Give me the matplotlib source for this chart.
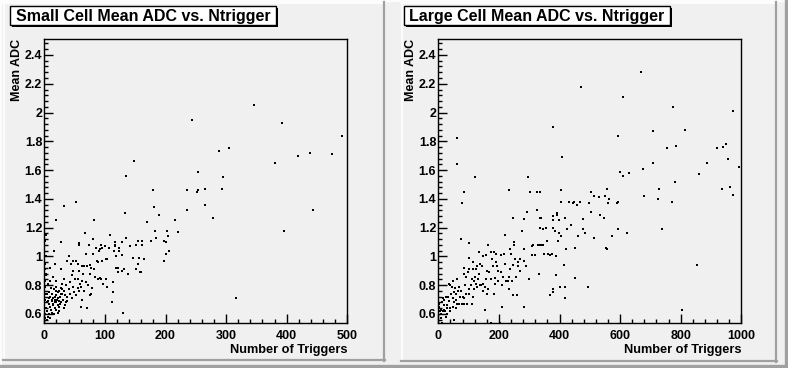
import matplotlib
matplotlib.use("Agg")
import matplotlib.pyplot as plt
from matplotlib.patches import Rectangle
from matplotlib.lines import Line2D
from matplotlib.ticker import MultipleLocator

plt.rcParams['font.family'] = ['Liberation Sans', 'DejaVu Sans']
plt.rcParams['font.weight'] = 'bold'

# ---------------- data ----------------
titles = ["Small Cell Mean ADC vs. Ntrigger", "Large Cell Mean ADC vs. Ntrigger"]
x_label = "Number of Triggers"
y_label = "Mean ADC"
x_max = [500, 1000]
x_major = [100, 200]
y_range = (0.535, 2.509)

small_pts = [
    (346, 2.05), (243, 1.95), (393, 1.93), (491, 1.84), (304, 1.75), (288, 1.73), (418, 1.70), (438, 1.72),
    (475, 1.71), (380, 1.65), (148, 1.66), (253, 1.59), (134, 1.56), (295, 1.55), (179, 1.46), (235, 1.46),
    (252, 1.45), (254, 1.46), (266, 1.47), (293, 1.47), (52, 1.38), (32, 1.35), (266, 1.36), (236, 1.32),
    (444, 1.32), (133, 1.30), (181, 1.34), (190, 1.29), (278, 1.27), (169, 1.24), (215, 1.25), (82, 1.25),
    (19, 1.25), (182, 1.18), (220, 1.17), (202, 1.18), (395, 1.18), (67, 1.16), (108, 1.15), (28, 1.10),
    (134, 1.13), (129, 1.10), (116, 1.10), (155, 1.11), (176, 1.11), (198, 1.11), (204, 1.14), (57, 1.08),
    (73, 1.08), (85, 1.06), (100, 1.07), (117, 1.07), (124, 1.04), (141, 1.07), (162, 1.08), (16, 1.04),
    (205, 1.04), (201, 1.02), (92, 1.05), (41, 1.00), (119, 1.00), (147, 0.99), (157, 0.99), (165, 0.98),
    (197, 0.97), (101, 0.98), (87, 0.97), (75, 0.94), (63, 0.93), (55, 0.95), (47, 0.97), (118, 0.92),
    (128, 0.90), (138, 0.88), (158, 0.89), (114, 0.82), (103, 0.79), (113, 0.75), (112, 0.68), (130, 0.61),
    (317, 0.71), (70, 0.64), (60, 0.65), (63, 0.70), (76, 0.73), (97, 0.81), (92, 0.85),
    (58, 1.09), (81, 1.12), (74, 1.08), (94, 1.08), (116, 1.08), (115, 1.04), (123, 1.06), (68, 1.02),
    (81, 1.02), (90, 1.04), (95, 1.06), (106, 1.06), (128, 1.01), (38, 0.97), (52, 0.97), (44, 0.95),
    (27, 0.91), (18, 0.95), (9, 0.92), (20, 0.83), (33, 0.84), (45, 0.87), (48, 0.90), (58, 0.90),
    (66, 0.93), (71, 0.93), (77, 0.92), (88, 0.96), (95, 0.97), (104, 0.98), (64, 0.88), (75, 0.88),
    (82, 0.91), (55, 0.84), (63, 0.83), (88, 0.84), (93, 0.84), (101, 0.84), (122, 0.89), (132, 0.91),
    (122, 0.92), (152, 0.91), (159, 0.89), (154, 0.95), (146, 0.99), (156, 0.99), (152, 1.08), (162, 1.11),
    (185, 1.13), (201, 1.10), (77, 0.74),
    (1, 0.57), (1, 0.60), (2, 0.64), (1, 0.70), (2, 0.74), (1, 0.79), (1, 0.83), (2, 0.87), (1, 0.91),
    (1, 0.95), (2, 1.00), (1, 1.11), (2, 1.15),
    (4, 0.56), (6, 0.58), (5, 0.62), (8, 0.60), (9, 0.65), (7, 0.67), (11, 0.63), (12, 0.69), (10, 0.72),
    (14, 0.66), (15, 0.71), (13, 0.74), (17, 0.68), (18, 0.64), (19, 0.73), (16, 0.77), (21, 0.70),
    (22, 0.66), (23, 0.75), (20, 0.79), (24, 0.69), (26, 0.72), (25, 0.62), (27, 0.78), (28, 0.68),
    (30, 0.74), (29, 0.81), (31, 0.70), (33, 0.76), (34, 0.66), (35, 0.80), (37, 0.72), (38, 0.69),
    (40, 0.77), (42, 0.74), (43, 0.82), (45, 0.71), (47, 0.79), (49, 0.75), (51, 0.84), (53, 0.73),
    (55, 0.78), (57, 0.76), (59, 0.81), (61, 0.79), (65, 0.76), (68, 0.82), (72, 0.80), (79, 0.78),
    (84, 0.86), (6, 0.69), (8, 0.75), (11, 0.78), (13, 0.61), (16, 0.60), (19, 0.63), (22, 0.61),
    (9, 0.83), (14, 0.86), (3, 0.88), (6, 0.81), (4, 0.68), (10, 0.57), (17, 0.72), (24, 0.65),
    (26, 0.67), (32, 0.64), (36, 0.68), (12, 0.70), (18, 0.70), (20, 0.68), (23, 0.71), (15, 0.67),
    (8, 0.71), (5, 0.74), (28, 0.74), (30, 0.77), (19, 0.76), (25, 0.76), (34, 0.73),
]

large_pts = [
    (670, 2.28), (470, 2.18), (611, 2.11), (776, 2.04), (974, 2.01), (377, 1.90), (814, 1.88), (707, 1.87),
    (593, 1.84), (63, 1.82), (783, 1.77), (756, 1.75), (950, 1.78), (921, 1.75), (939, 1.76), (407, 1.69),
    (957, 1.68), (888, 1.65), (708, 1.65), (61, 1.64), (992, 1.62), (674, 1.61), (600, 1.59), (629, 1.58),
    (611, 1.56), (861, 1.57), (121, 1.55), (295, 1.55), (780, 1.52), (558, 1.47), (935, 1.47), (963, 1.48),
    (730, 1.47), (233, 1.46), (301, 1.45), (325, 1.45), (334, 1.45), (404, 1.46), (84, 1.45), (505, 1.45),
    (551, 1.42), (514, 1.42), (974, 1.43), (678, 1.42), (79, 1.37), (594, 1.38), (561, 1.37), (448, 1.38),
    (459, 1.36), (404, 1.38), (726, 1.40), (770, 1.38), (504, 1.31), (327, 1.32), (294, 1.31), (391, 1.29),
    (397, 1.25), (334, 1.27), (283, 1.26), (246, 1.27), (418, 1.27), (477, 1.26), (535, 1.29), (548, 1.27),
    (277, 1.18), (334, 1.20), (354, 1.20), (378, 1.20), (386, 1.18), (424, 1.19), (437, 1.22), (477, 1.19),
    (462, 1.14), (514, 1.13), (572, 1.14), (592, 1.19), (622, 1.16), (739, 1.19), (221, 1.15), (251, 1.10),
    (238, 1.05), (310, 1.07), (334, 1.08), (342, 1.08), (358, 1.11), (395, 1.11), (404, 1.14), (450, 1.06),
    (420, 1.05), (554, 1.06), (556, 1.05), (367, 1.01), (349, 1.02), (388, 1.00), (74, 1.12), (101, 1.09),
    (414, 0.94), (333, 0.88), (390, 0.87), (298, 0.84), (450, 0.85), (493, 0.79), (400, 0.79), (417, 0.79),
    (369, 0.73), (380, 0.75), (417, 0.71), (854, 0.94), (803, 0.63), (283, 0.65), (209, 0.65), (155, 0.63),
    (175, 0.54), (204, 0.54), (52, 0.56), (13, 0.54), (246, 0.73), (259, 0.73), (234, 0.77), (184, 0.74),
    (160, 0.74),
    (380, 1.28), (391, 1.30), (340, 1.27), (378, 1.25), (344, 1.19), (399, 1.16), (483, 1.16), (249, 1.08),
    (282, 1.05), (311, 1.08), (328, 1.08), (344, 1.08), (359, 1.11), (308, 1.01), (319, 1.01), (350, 1.02),
    (362, 1.02), (374, 1.02), (421, 1.05), (433, 1.38), (446, 1.37), (468, 1.38), (497, 1.37), (530, 1.41),
    (562, 1.40), (589, 1.37), (377, 0.77),
    (163, 1.08), (134, 1.03), (147, 1.00), (157, 1.01), (174, 1.03), (183, 1.03), (191, 1.02), (207, 1.01),
    (218, 1.02), (240, 1.02), (253, 0.98), (271, 0.98), (284, 0.97), (248, 0.94), (262, 0.93), (289, 0.93),
    (270, 0.90), (256, 0.86), (243, 0.83), (223, 0.83), (229, 0.83), (212, 0.86), (207, 0.89), (198, 0.90),
    (194, 0.93), (179, 0.93), (168, 0.89), (186, 0.85), (174, 0.84), (157, 0.84), (146, 0.81), (130, 0.84),
    (122, 0.86), (135, 0.88), (128, 0.93), (124, 0.91), (113, 0.91), (102, 0.91), (97, 0.89), (86, 0.92),
    (84, 0.88), (91, 0.86), (111, 0.84), (117, 0.83), (123, 0.81), (109, 0.80), (136, 0.80), (140, 0.80),
    (128, 0.79), (146, 0.76), (102, 0.77), (88, 0.80), (69, 0.79), (63, 0.84), (50, 0.83), (40, 0.80),
    (36, 0.81), (45, 0.79), (56, 0.78), (75, 0.76), (91, 0.74), (113, 0.72), (80, 0.72), (70, 0.72),
    (58, 0.74), (42, 0.74), (25, 0.72), (14, 0.71), (36, 0.69), (53, 0.68), (69, 0.67), (86, 0.67),
    (47, 0.65), (29, 0.64), (20, 0.66), (9, 0.63), (3, 0.67), (3, 0.65), (6, 0.62), (14, 0.62),
    (23, 0.62), (38, 0.62), (57, 0.64), (84, 0.71), (47, 0.71), (8, 0.60), (18, 0.63), (30, 0.60),
    (40, 0.64), (8, 0.57), (24, 0.58), (30, 0.66), (63, 0.67), (79, 0.67), (96, 0.67), (112, 0.67),
    (12, 0.68), (20, 0.70), (33, 0.72), (60, 0.70), (66, 0.76), (52, 0.75), (100, 0.74), (118, 0.77),
    (155, 0.79), (165, 0.77), (198, 0.83), (210, 0.80), (186, 0.81), (232, 0.86), (160, 0.90), (144, 0.93),
    (190, 0.96), (176, 0.98), (220, 0.95), (262, 0.96), (236, 0.91), (116, 0.96), (100, 0.99), (138, 0.95),
]

small_x = [p[0] for p in small_pts]
small_y = [p[1] for p in small_pts]
large_x = [p[0] for p in large_pts]
large_y = [p[1] for p in large_pts]

# ---------------- layout ----------------
W, H = 788, 368
BG = '#f0f0f0'
SH = '#a0a0a0'
fig = plt.figure(figsize=(W / 100, H / 100), dpi=100, facecolor=BG)


def fx(x):
    return x / W


def fy(y):
    return 1 - y / H


def hline(x0, x1, y, color, lw=1.0):
    fig.add_artist(Line2D([fx(x0), fx(x1)], [fy(y), fy(y)], color=color, lw=lw))


def vline(x, y0, y1, color, lw=1.0):
    fig.add_artist(Line2D([fx(x), fx(x)], [fy(y0), fy(y1)], color=color, lw=lw))


# canvas bevel
hline(0, W, 0.6, 'white', 1.2)
vline(0.6, 0, H, 'white', 1.2)
hline(0, W, H - 2.5, SH, 2.4)
vline(W - 2.5, 0, H, SH, 2.4)

pads = [(3, 2, 385, 361), (401, 2, 777, 362)]
for (x0, y0, x1, y1) in pads:
    hline(x0, x1, y0 + 0.6, 'white', 1.2)
    vline(x0 + 0.6, y0, y1, 'white', 1.2)
    hline(x0, x1, y1 - 0.8, SH, 1.6)
    vline(x1 - 0.8, y0, y1, SH, 1.6)

ax_left_px = [44.3, 438.3]
ax_w_px = 303
ax_top_px, ax_bot_px = 39.3, 323.3
title_box = [(10, 6, 276, 25), (404, 6, 670, 25)]

datasets = [(small_x, small_y), (large_x, large_y)]

for i in range(2):
    lx = ax_left_px[i]
    ax = fig.add_axes([fx(lx), fy(ax_bot_px), ax_w_px / W, (ax_bot_px - ax_top_px) / H])
    ax.set_facecolor(BG)
    xs, ys = datasets[i]
    ax.plot(xs, ys, linestyle='none', marker='s', markersize=1.8, markeredgewidth=0,
            color='black')
    ax.set_xlim(0, x_max[i])
    ax.set_ylim(*y_range)
    ax.xaxis.set_major_locator(MultipleLocator(x_major[i]))
    ax.xaxis.set_minor_locator(MultipleLocator(x_major[i] / 5))
    ax.yaxis.set_major_locator(MultipleLocator(0.2))
    ax.yaxis.set_minor_locator(MultipleLocator(0.04))
    ax.tick_params(which='both', direction='in', top=False, right=False, width=1.0,
                   color='black')
    ax.tick_params(which='major', length=6.5)
    ax.tick_params(which='minor', length=3.2)
    ax.tick_params(axis='x', which='major', pad=4.5, labelsize=9)
    ax.tick_params(axis='y', which='major', pad=1.5, labelsize=9)
    ax.yaxis.set_major_formatter(matplotlib.ticker.FuncFormatter(
        lambda v, p: ('%g' % round(v, 2))))
    for lab in ax.get_xticklabels() + ax.get_yticklabels():
        lab.set_fontweight('bold')
    for s in ax.spines.values():
        s.set_linewidth(1.0)
        s.set_color('black')

    # axis titles
    fig.text(fx(lx + ax_w_px), fy(350), x_label, ha='right', va='center', fontsize=9.2,
             fontweight='bold')
    fig.text(fx(lx - 27), fy(ax_top_px), y_label, ha='center', va='top', rotation=90,
             fontsize=9.0, fontweight='bold')

    # title box with shadow
    x0, y0, x1, y1 = title_box[i]
    fig.add_artist(Rectangle((fx(x0 + 2), fy(y1 + 2)), (x1 - x0) / W, (y1 - y0) / H,
                             transform=fig.transFigure, facecolor='black', edgecolor='none'))
    fig.add_artist(Rectangle((fx(x0), fy(y1)), (x1 - x0) / W, (y1 - y0) / H,
                             transform=fig.transFigure, facecolor='white', edgecolor='black',
                             linewidth=1.0))
    fig.text(fx((x0 + x1) / 2), fy((y0 + y1) / 2 + 0.5), titles[i], ha='center', va='center',
             fontsize=11.5, fontweight='bold')

fig.savefig('out.png', dpi=100, facecolor=BG)
